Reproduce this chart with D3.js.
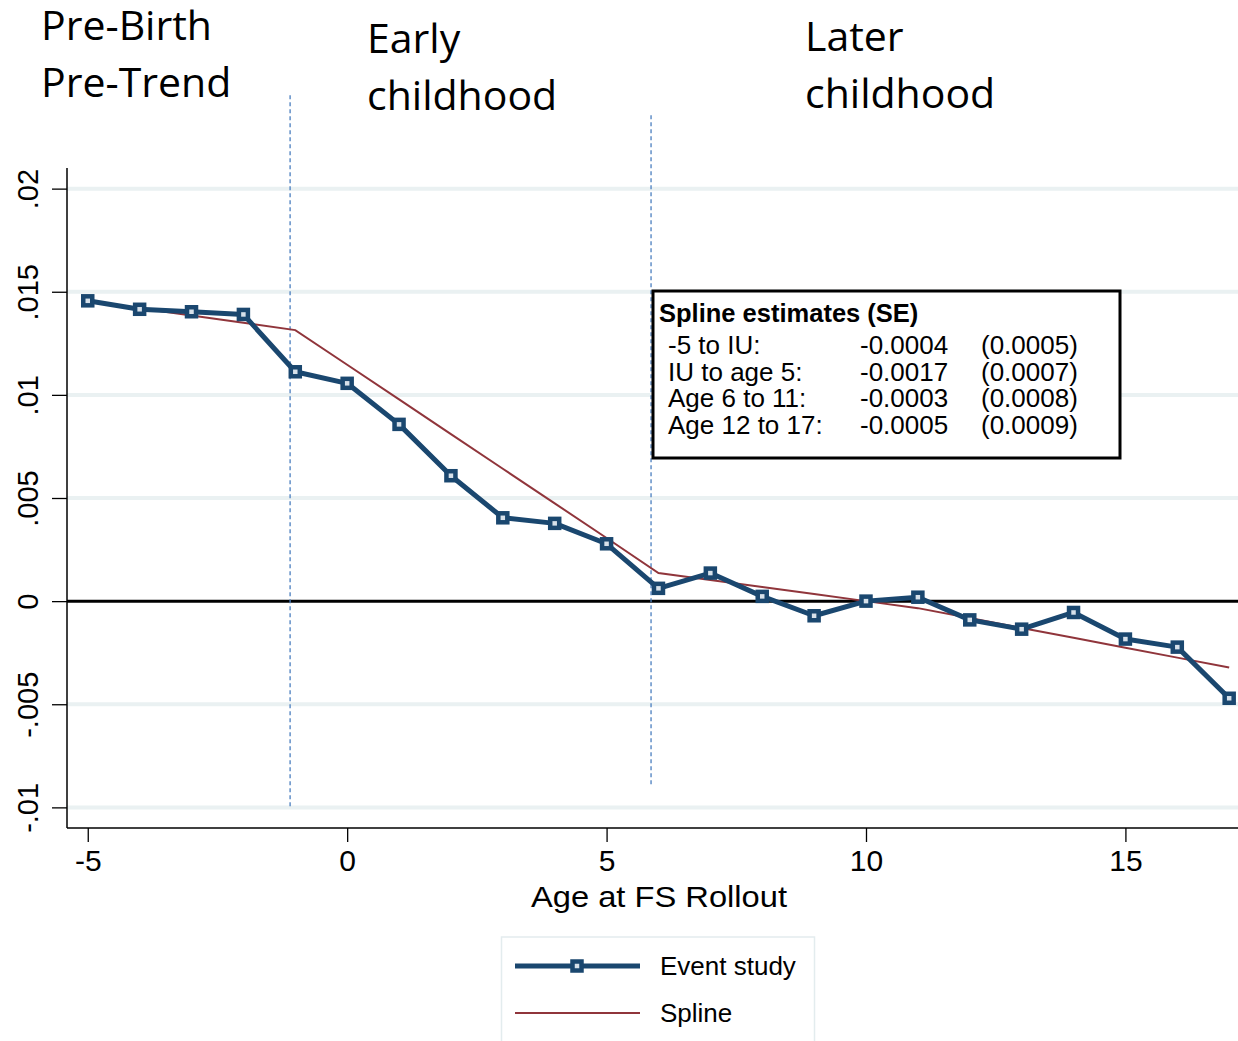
<!DOCTYPE html>
<html>
<head>
<meta charset="utf-8">
<script src="https://cdn.jsdelivr.net/npm/d3@7"></script>
<style>
  html, body { margin: 0; padding: 0; background: #fff; }
  svg { display: block; }
  .ax text { font-family: "Liberation Sans", Arial, sans-serif; fill: #000; }
</style>
</head>
<body>
<svg id="chart" width="1238" height="1041"></svg>
<script>
// Age at Food Stamp rollout and the event-study / spline estimates
const ages = d3.range(-5, 18);
const eventStudy = [0.01456, 0.01415, 0.01403, 0.01390, 0.01112, 0.01056, 0.00857, 0.00608,
  0.00404, 0.00377, 0.00278, 0.00062, 0.00136, 0.00023, -0.00071, 0.0, 0.00019,
  -0.00091, -0.00136, -0.00055, -0.00184, -0.00223, -0.00471];
const spline = [0.01455, 0.01420, 0.01385, 0.01350, 0.01314, 0.01146, 0.00978, 0.00810,
  0.00642, 0.00474, 0.00306, 0.00136, 0.00102, 0.00068, 0.00034, 0.0, -0.00034,
  -0.00082, -0.00130, -0.00178, -0.00226, -0.00274, -0.00322];
const xTicks = [-5, 0, 5, 10, 15];
const xTickLabels = ["-5", "0", "5", "10", "15"];
const yTicks = [-0.01, -0.005, 0, 0.005, 0.01, 0.015, 0.02];
const yTickLabels = ["-.01", "-.005", "0", ".005", ".01", ".015", ".02"];
// period dividers (age, top value, bottom value)
const dividers = [
  { age: -1.1, top: 0.02453, bottom: -0.01003 },
  { age: 5.857, top: 0.02356, bottom: -0.00902 }
];
const periodLabels = [
  { lines: ["Pre-Birth", "Pre-Trend"], x: 41, y: 40 },
  { lines: ["Early", "childhood"], x: 367, y: 53 },
  { lines: ["Later", "childhood"], x: 805, y: 51 }
];
const estRows = ["-5 to IU:", "IU to age 5:", "Age 6 to 11:", "Age 12 to 17:"];
const estValues = ["-0.0004", "-0.0017", "-0.0003", "-0.0005"];
const estSE = ["(0.0005)", "(0.0007)", "(0.0008)", "(0.0009)"];

const navy = "#1a476f", maroon = "#90353b";
const svg = d3.select("#chart");
const plotLeft = 67, plotRight = 1238, plotTop = 168, plotBottom = 828;

const x = d3.scaleLinear().domain([-5.4, 17.17]).range([plotLeft, plotRight]);
const y = d3.scaleLinear().domain([-0.011, 0.021]).range([plotBottom, plotTop]);

// horizontal grid
svg.append("g").selectAll("line")
  .data(yTicks.filter(d => d !== 0))
  .join("line")
  .attr("x1", plotLeft).attr("x2", plotRight)
  .attr("y1", d => y(d)).attr("y2", d => y(d))
  .attr("stroke", "#eaf1f2").attr("stroke-width", 4);

// zero reference line
svg.append("line")
  .attr("x1", plotLeft).attr("x2", plotRight)
  .attr("y1", y(0)).attr("y2", y(0))
  .attr("stroke", "#000").attr("stroke-width", 3);

// period dividers
svg.append("g").selectAll("line")
  .data(dividers)
  .join("line")
  .attr("x1", d => x(d.age)).attr("x2", d => x(d.age))
  .attr("y1", d => y(d.top)).attr("y2", d => y(d.bottom))
  .attr("stroke", "#4a7ebf").attr("stroke-width", 1.3)
  .attr("stroke-dasharray", "4,3");

// axes
const yAxis = svg.append("g").attr("class", "ax")
  .attr("transform", `translate(${plotLeft},0)`)
  .call(d3.axisLeft(y).tickValues(yTicks).tickSize(15).tickPadding(0)
    .tickFormat((d, i) => yTickLabels[i]));
yAxis.select(".domain").attr("d", `M0,${plotTop}V${plotBottom}`).attr("stroke-width", 1.5);
yAxis.selectAll(".tick line").attr("stroke-width", 1.3);
yAxis.selectAll(".tick text")
  .attr("font-size", 29)
  .attr("text-anchor", "middle")
  .attr("x", 0).attr("dy", 0)
  .attr("transform", "translate(-29,0) rotate(-90)")
  .attr("y", 0);

const xAxis = svg.append("g").attr("class", "ax")
  .attr("transform", `translate(0,${plotBottom})`)
  .call(d3.axisBottom(x).tickValues(xTicks).tickSize(14).tickPadding(8)
    .tickFormat((d, i) => xTickLabels[i]));
xAxis.select(".domain").attr("d", `M${plotLeft},0H${plotRight}`).attr("stroke-width", 1.5);
xAxis.selectAll(".tick line").attr("stroke-width", 1.3);
xAxis.selectAll(".tick text").attr("font-size", 30);

svg.append("text").attr("class", "ax")
  .attr("x", 659).attr("y", 907)
  .attr("text-anchor", "middle")
  .attr("font-family", "Liberation Sans, Arial, sans-serif")
  .attr("font-size", 30)
  .attr("textLength", 256).attr("lengthAdjust", "spacingAndGlyphs")
  .text("Age at FS Rollout");

// spline fit
const pts = ages.map((a, i) => ({ a, es: eventStudy[i], sp: spline[i] }));
svg.append("path")
  .datum(pts)
  .attr("fill", "none").attr("stroke", maroon).attr("stroke-width", 2)
  .attr("d", d3.line().x(d => x(d.a)).y(d => y(d.sp)));

// event-study estimates
svg.append("path")
  .datum(pts)
  .attr("fill", "none").attr("stroke", navy).attr("stroke-width", 5)
  .attr("stroke-linejoin", "round")
  .attr("d", d3.line().x(d => x(d.a)).y(d => y(d.es)));

function marker(g, cx, cy) {
  g.append("rect")
    .attr("x", cx - 4.5).attr("y", cy - 4.5)
    .attr("width", 9).attr("height", 9)
    .attr("fill", "#d7e1ea").attr("stroke", navy).attr("stroke-width", 4.5);
}
const mg = svg.append("g");
pts.forEach(d => marker(mg, x(d.a), y(d.es)));

// spline estimates box
const box = svg.append("g").attr("font-family", "Liberation Sans, Arial, sans-serif");
box.append("rect")
  .attr("x", 653).attr("y", 291).attr("width", 467).attr("height", 167)
  .attr("fill", "#fff").attr("stroke", "#000").attr("stroke-width", 3);
box.append("text").attr("x", 659).attr("y", 322)
  .attr("font-size", 25.5).attr("font-weight", "bold")
  .text("Spline estimates (SE)");
estRows.forEach((r, i) => {
  const by = 354 + i * 26.7;
  box.append("text").attr("x", 668).attr("y", by).attr("font-size", 26).text(r);
  box.append("text").attr("x", 860).attr("y", by).attr("font-size", 26).text(estValues[i]);
  box.append("text").attr("x", 981).attr("y", by).attr("font-size", 26).text(estSE[i]);
});

// period headings
const head = svg.append("g")
  .attr("font-family", "Open Sans, Noto Sans, sans-serif")
  .attr("font-size", 41).attr("fill", "#000");
periodLabels.forEach(p => {
  p.lines.forEach((t, i) => {
    head.append("text").attr("x", p.x).attr("y", p.y + i * 57).text(t);
  });
});

// legend
const lg = svg.append("g").attr("font-family", "Liberation Sans, Arial, sans-serif");
lg.append("rect")
  .attr("x", 501.5).attr("y", 937).attr("width", 313).attr("height", 120)
  .attr("fill", "#fff").attr("stroke", "#e3ecee").attr("stroke-width", 1.5);
lg.append("line").attr("x1", 515).attr("x2", 640).attr("y1", 966).attr("y2", 966)
  .attr("stroke", navy).attr("stroke-width", 5);
marker(lg, 577, 966);
lg.append("text").attr("x", 660).attr("y", 975).attr("font-size", 26).text("Event study");
lg.append("line").attr("x1", 515).attr("x2", 640).attr("y1", 1013).attr("y2", 1013)
  .attr("stroke", maroon).attr("stroke-width", 2);
lg.append("text").attr("x", 660).attr("y", 1022).attr("font-size", 26).text("Spline");
</script>
</body>
</html>
